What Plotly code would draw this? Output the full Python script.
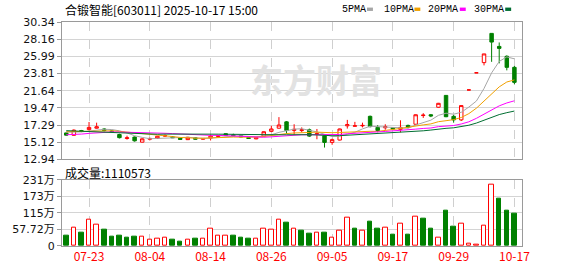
import plotly.graph_objects as go
import pandas as pd

# ---------------- data ----------------
dates = ["07-18", "07-21", "07-22", "07-23", "07-24", "07-25", "07-28", "07-29", "07-30", "07-31",
         "08-01", "08-04", "08-05", "08-06", "08-07", "08-08", "08-11", "08-12", "08-13", "08-14",
         "08-15", "08-18", "08-19", "08-20", "08-21", "08-22", "08-25", "08-26", "08-27", "08-28",
         "08-29", "09-01", "09-02", "09-03", "09-04", "09-05", "09-08", "09-09", "09-10", "09-11",
         "09-12", "09-15", "09-16", "09-17", "09-18", "09-19", "09-22", "09-23", "09-24", "09-25",
         "09-26", "09-29", "09-30", "10-09", "10-10", "10-13", "10-14", "10-15", "10-16", "10-17"]

opens = [16.30, 16.00, 16.60, 16.72, 16.90, 16.80, 16.55, 16.10, 15.60, 15.78,
         15.13, 15.50, 15.60, 15.90, 15.80, 15.65, 15.45, 15.70, 15.50, 15.65,
         15.85, 16.20, 16.05, 15.95, 15.72, 15.55, 15.90, 16.50, 16.90, 17.70,
         16.62, 16.60, 16.70, 16.10, 15.95, 15.10, 15.40, 17.20, 17.15, 17.20,
         18.40, 17.00, 16.95, 16.95, 16.75, 17.25, 17.40, 18.50, 18.60, 19.55,
         21.05, 18.40, 17.95, 21.74, 23.91, 25.20, 28.90, 27.25, 26.00, 24.60]
highs = [16.35, 16.75, 16.68, 17.68, 17.60, 16.90, 16.65, 16.20, 15.95, 15.85,
         15.62, 15.70, 15.92, 16.10, 15.90, 15.70, 15.80, 15.75, 15.65, 16.07,
         16.00, 16.25, 16.20, 16.00, 15.78, 15.80, 16.50, 17.20, 18.30, 17.80,
         17.40, 17.00, 16.85, 16.80, 16.00, 15.58, 16.85, 17.95, 17.70, 17.60,
         18.50, 17.28, 17.40, 17.05, 17.90, 17.35, 18.65, 18.80, 18.70, 20.10,
         21.10, 18.57, 19.76, 21.74, 23.91, 26.30, 28.93, 27.75, 26.12, 24.78]
lows = [15.95, 15.95, 16.40, 16.60, 16.85, 16.50, 16.40, 15.60, 15.45, 15.20,
        15.10, 15.35, 15.55, 15.80, 15.65, 15.42, 15.40, 15.45, 15.45, 15.35,
        15.75, 15.95, 15.90, 15.75, 15.55, 15.50, 15.85, 16.40, 16.85, 16.20,
        16.10, 16.40, 15.80, 15.50, 14.45, 14.80, 15.35, 16.85, 17.12, 17.00,
        17.00, 16.38, 16.70, 16.75, 16.38, 16.90, 17.35, 18.20, 18.30, 19.50,
        18.30, 17.60, 17.81, 21.74, 23.91, 24.85, 25.30, 25.10, 24.22, 22.47]
closes = [16.02, 16.65, 16.50, 17.00, 17.08, 16.60, 16.45, 15.70, 15.68, 15.30,
          15.55, 15.60, 15.88, 15.95, 15.70, 15.48, 15.75, 15.50, 15.60, 15.90,
          15.95, 16.00, 15.95, 15.80, 15.60, 15.70, 16.45, 16.80, 17.30, 16.60,
          16.75, 16.70, 15.90, 16.20, 15.10, 15.45, 16.80, 17.35, 17.20, 17.25,
          17.10, 16.60, 17.10, 16.80, 17.00, 16.98, 18.60, 18.55, 18.45, 20.05,
          18.35, 17.95, 19.76, 21.74, 23.91, 26.30, 27.80, 27.00, 24.60, 22.70]
# closes of the 29 sessions before the first bar (needed for the moving averages)
prior_closes = [17.9, 17.8, 17.9, 17.7, 17.6, 17.5, 17.6, 17.4, 17.5, 17.3,
                16.2, 15.3, 15.2, 15.4, 15.3, 15.8, 16.0, 15.9, 16.0, 15.8,
                16.3, 16.4, 16.6, 16.5, 16.7, 16.6, 16.4, 16.5, 16.48]
volumes = [355000, 633000, 455000, 910000, 744000, 555000, 311000, 344000, 289000, 311000,
           311000, 211000, 244000, 300000, 222000, 155000, 211000, 255000, 244000, 611000,
           344000, 377000, 344000, 289000, 255000, 244000, 611000, 577000, 910000, 821000,
           611000, 522000, 422000, 477000, 477000, 277000, 544000, 977000, 611000, 522000,
           855000, 611000, 644000, 411000, 777000, 411000, 1010000, 943000, 611000, 300000,
           1243000, 677000, 777000, 78000, 44000, 699000, 2142000, 1643000, 1243000, 1110573]

ma_periods = [5, 10, 20, 30]
ma_names = ["5PMA", "10PMA", "20PMA", "30PMA"]
ma_colors = ["#a6a6a6", "#f0a000", "#ff00ff", "#006e32"]

price_ticks = [12.94, 15.115, 17.29, 19.465, 21.64, 23.815, 25.99, 28.165, 30.34]
price_tick_text = ["12.94", "15.12", "17.29", "19.47", "21.64", "23.81", "25.99", "28.16", "30.34"]
vol_ticks = [0, 577200, 1154400, 1731600, 2308800]
vol_tick_text = ["0", "57.72万", "115万", "173万", "231万"]
label_every = 8
label_start = 3

title_text = "合锻智能[603011] 2025-10-17 15:00"
vol_title = "成交量:1110573"
watermark = "东方财富"

RED = "#ff0000"
GREEN = "#008000"

# ---------------- derived ----------------
n = len(closes)
xs = list(range(n))
all_closes = pd.Series(prior_closes + closes)
mas = [all_closes.rolling(p).mean().tolist()[-n:] for p in ma_periods]
prev = [prior_closes[-1]] + closes[:-1]
vol_up = [c >= p for c, p in zip(closes, prev)]
vol_fill = ["white" if u else GREEN for u in vol_up]
vol_line = [RED if u else GREEN for u in vol_up]
tick_idx = list(range(label_start, n, label_every))
tick_lbl = [dates[i] for i in tick_idx]

fig = go.Figure()
fig.add_trace(go.Candlestick(
    x=xs, open=opens, high=highs, low=lows, close=closes,
    increasing=dict(line=dict(color=RED, width=1), fillcolor="white"),
    decreasing=dict(line=dict(color=GREEN, width=1), fillcolor=GREEN),
    whiskerwidth=0, hoverinfo="skip", showlegend=False,
    xaxis="x", yaxis="y"))
for m, c in zip(mas, ma_colors):
    fig.add_trace(go.Scatter(x=xs, y=m, mode="lines", line=dict(color=c, width=1),
                             hoverinfo="skip", showlegend=False, xaxis="x", yaxis="y"))
fig.add_trace(go.Bar(x=xs, y=volumes, width=0.6,
                     marker=dict(color=vol_fill, line=dict(color=vol_line, width=1)),
                     hoverinfo="skip", showlegend=False, xaxis="x2", yaxis="y2"))

L, R, T, B = 56, 522, 22, 255
W, H = 578, 276
main_bottom = 165
vol_top = 186
ph = B - T

grid = "#d4d4d4"
frame = "#9a9a9a"
xcommon = dict(range=[-0.56, 60.0], tickvals=tick_idx, showgrid=True, gridcolor="#cfcfcf",
               griddash="dash", gridwidth=1, showline=True, linecolor=frame, mirror=True,
               zeroline=False, ticks="", fixedrange=True)
fig.update_layout(
    width=W, height=H, margin=dict(l=L, r=W - R, t=T, b=H - B),
    paper_bgcolor="white", plot_bgcolor="white",
    boxgap=0.35, bargap=0, showlegend=False,
    font=dict(family="DejaVu Sans, Noto Sans CJK SC", size=11, color="#111111"),
    xaxis=dict(**xcommon, anchor="y", showticklabels=False, rangeslider=dict(visible=False)),
    xaxis2=dict(**xcommon, anchor="y2", matches="x", ticktext=tick_lbl, showticklabels=True,
                tickfont=dict(family="Noto Sans CJK SC", size=12, color=RED)),
    yaxis=dict(domain=[(B - main_bottom) / ph, 1], range=[price_ticks[0], price_ticks[-1]],
               tickvals=price_ticks, ticktext=price_tick_text, showgrid=True, gridcolor=grid,
               showline=True, linecolor=frame, mirror=True, ticks="outside", ticklen=4,
               tickcolor=frame, zeroline=False, fixedrange=True,
               tickfont=dict(family="DejaVu Sans", size=11, color="#111111")),
    yaxis2=dict(domain=[0, (B - vol_top) / ph], range=[vol_ticks[0], vol_ticks[-1]],
                tickvals=vol_ticks, ticktext=vol_tick_text, showgrid=True, gridcolor=grid,
                showline=True, linecolor=frame, mirror=True, ticks="outside", ticklen=4,
                tickcolor=frame, zeroline=False, fixedrange=True,
                tickfont=dict(family="DejaVu Sans, Noto Sans CJK SC", size=11, color="#111111")),
)

def px(xp):
    return (xp - L) / (R - L)

def py(yp):
    return (B - yp) / ph

ann = []
ann.append(dict(text=title_text, x=px(57), y=py(9), xref="paper", yref="paper",
                xanchor="left", yanchor="middle", showarrow=False,
                font=dict(family="Noto Sans CJK SC", size=12, color="#000000")))
ann.append(dict(text=vol_title, x=px(57), y=py(179), xref="paper", yref="paper",
                xanchor="left", yanchor="middle", showarrow=False,
                font=dict(family="Noto Sans CJK SC", size=12, color="#000000")))
ann.append(dict(text="<b>" + watermark + "</b>", x=px(313), y=py(81), xref="paper", yref="paper",
                xanchor="center", yanchor="middle", showarrow=False,
                font=dict(family="Noto Sans CJK SC", size=33, color="#e2e2e2")))

shapes = []
leg_x = [338, 380, 425, 471]
rect_x = [365, 413, 459, 505]
for name, c, lx, rx in zip(ma_names, ma_colors, leg_x, rect_x):
    ann.append(dict(text=name, x=px(lx), y=py(9), xref="paper", yref="paper",
                    xanchor="left", yanchor="middle", showarrow=False,
                    font=dict(family="Liberation Mono", size=10, color="#000000")))
    shapes.append(dict(type="rect", xref="paper", yref="paper", x0=px(rx), x1=px(rx + 6),
                       y0=py(10.5), y1=py(7), fillcolor=c, line=dict(width=0)))
fig.update_layout(annotations=ann, shapes=shapes)

fig.write_html("out.html")
